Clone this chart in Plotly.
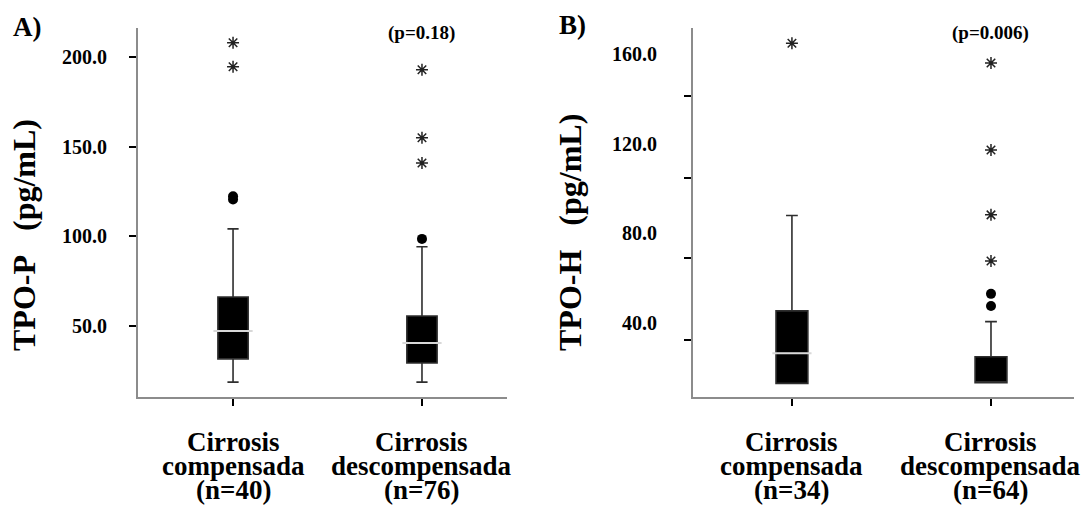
import plotly.graph_objects as go

# ---- data -------------------------------------------------------------
groups = ["Cirrosis compensada", "Cirrosis descompensada"]

# Panel A: TPO-P (pg/mL)
a_n = [40, 76]
a_lower = [18.9, 18.9]
a_q1 = [31.8, 29.5]
a_median = [47.4, 40.7]
a_q3 = [66.3, 55.7]
a_upper = [104.2, 94.2]
a_out_x = [0, 0, 1]            # outliers (circles)
a_out_y = [120.5, 122.3, 98.6]
a_ext_x = [0, 0, 1, 1, 1]      # extreme values (asterisks)
a_ext_y = [207.8, 194.4, 192.8, 154.9, 140.9]
a_p = "(p=0.18)"

# Panel B: TPO-H (pg/mL)
b_n = [34, 64]
b_lower = [13.0, 13.3]
b_q1 = [13.0, 13.3]
b_median = [26.5, 13.3]
b_q3 = [45.4, 24.9]
b_upper = [88.0, 40.6]
b_out_x = [1, 1]
b_out_y = [47.6, 53.0]
b_ext_x = [0, 1, 1, 1, 1]
b_ext_y = [165.0, 156.2, 117.3, 88.3, 67.7]
b_p = "(p=0.006)"

a_ticks = [50, 100, 150, 200]
b_ticks = [40, 80, 120, 160]
b_tickmarks = [32.4, 69.1, 104.8, 141.5]

FONT = "Liberation Serif"

fig = go.Figure()


def add_panel(xa, ya, lower, q1, med, q3, upper, ox, oy, ex, ey):
    fig.add_trace(go.Box(
        x=[0, 1], q1=q1, median=med, q3=q3,
        lowerfence=lower, upperfence=upper,
        fillcolor="black", line=dict(color="#2e2e2e", width=1.6),
        width=0.16, whiskerwidth=0.37, boxpoints=False,
        xaxis=xa, yaxis=ya, showlegend=False, hoverinfo="skip"))
    # light median line (only where it sits inside the box)
    mx = [i for i in range(len(med)) if med[i] > q1[i]]
    my = [med[i] for i in mx]
    fig.add_trace(go.Scatter(
        x=mx, y=my, mode="markers",
        marker=dict(symbol="line-ew", size=28, color="#d8d8d8",
                    line=dict(color="#d8d8d8", width=2)),
        xaxis=xa, yaxis=ya, showlegend=False, hoverinfo="skip"))
    fig.add_trace(go.Scatter(
        x=ox, y=oy, mode="markers",
        marker=dict(symbol="circle", size=10, color="black"),
        xaxis=xa, yaxis=ya, showlegend=False, hoverinfo="skip"))
    fig.add_trace(go.Scatter(
        x=ex, y=ey, mode="markers",
        marker=dict(symbol="asterisk-open", size=10, color="#222222",
                    line=dict(color="#222222", width=1.5)),
        xaxis=xa, yaxis=ya, showlegend=False, hoverinfo="skip"))


add_panel("x", "y", a_lower, a_q1, a_median, a_q3, a_upper,
          a_out_x, a_out_y, a_ext_x, a_ext_y)
add_panel("x2", "y2", b_lower, b_q1, b_median, b_q3, b_upper,
          b_out_x, b_out_y, b_ext_x, b_ext_y)

W, H = 1089, 518
ydom = [(H - 397) / H, (H - 28) / H]

xcommon = dict(showline=True, linecolor="#8c8c8c", linewidth=2,
               ticks="outside", ticklen=7, tickwidth=2, tickcolor="black",
               tickvals=[0, 1], showticklabels=False, showgrid=False,
               zeroline=False, fixedrange=True)
tickfont = dict(family=FONT, size=20, color="black")


def bold(s):
    return f"<b>{s}</b>"


fig.update_layout(
    width=W, height=H, margin=dict(l=0, r=0, t=0, b=0),
    paper_bgcolor="white", plot_bgcolor="white",
    font=dict(family=FONT, color="black"),
    xaxis=dict(domain=[138 / W, 507 / W], range=[-0.503, 1.45], **xcommon),
    xaxis2=dict(domain=[693 / W, 1074 / W], range=[-0.497, 1.417], **xcommon),
    yaxis=dict(domain=ydom, range=[10.6, 216], anchor="x",
               showline=True, linecolor="#8c8c8c", linewidth=2,
               ticks="outside", ticklen=7, tickwidth=2, tickcolor="black",
               tickvals=a_ticks, ticktext=[bold(f"{v:.1f}") for v in a_ticks],
               tickfont=tickfont, ticklabelstandoff=18,
               showgrid=False, zeroline=False),
    yaxis2=dict(domain=ydom, range=[6.9, 171.8], anchor="x2",
                showline=True, linecolor="#8c8c8c", linewidth=2,
                ticks="", tickvals=b_ticks,
                ticktext=[bold(f"{v:.1f}") for v in b_ticks],
                tickfont=tickfont, ticklabelstandoff=30,
                minor=dict(tickmode="array", tickvals=b_tickmarks,
                           ticks="outside", ticklen=7, tickwidth=2,
                           tickcolor="black", showgrid=False),
                showgrid=False, zeroline=False),
)

ann = []
# category labels, three lines each
line_y = [441.7, 465.5, 490]
for xref, ns in (("x", a_n), ("x2", b_n)):
    for i, g in enumerate(groups):
        first, second = g.split(" ", 1)
        for txt, py in zip([first, second, f"(n={ns[i]})"], line_y):
            ann.append(dict(x=i, xref=xref, y=(H - py) / H, yref="paper",
                            text=bold(txt), showarrow=False, xanchor="center",
                            yanchor="middle",
                            font=dict(family=FONT, size=27, color="black")))

# axis titles
for txt, px, py in (("TPO-P\u00a0\u00a0\u00a0(pg/mL)", 24, 235),
                    ("TPO-H\u00a0\u00a0\u00a0(pg/mL)", 570, 233)):
    ann.append(dict(x=px / W, xref="paper", y=(H - py) / H, yref="paper",
                    text=bold(txt), textangle=-90, showarrow=False,
                    xanchor="center", yanchor="middle",
                    font=dict(family=FONT, size=32, color="black")))

# panel letters
for txt, px, py in (("A)", 27, 27), ("B)", 572, 25)):
    ann.append(dict(x=px / W, xref="paper", y=(H - py) / H, yref="paper",
                    text=bold(txt), showarrow=False, xanchor="center",
                    yanchor="middle",
                    font=dict(family=FONT, size=27, color="black")))

# p-values above the decompensated groups
for txt, xref in ((a_p, "x"), (b_p, "x2")):
    ann.append(dict(x=1, xref=xref, y=(H - 33) / H, yref="paper",
                    text=bold(txt), showarrow=False, xanchor="center",
                    yanchor="middle",
                    font=dict(family=FONT, size=19, color="black")))

fig.update_layout(annotations=ann)
fig.write_html("out.html")
